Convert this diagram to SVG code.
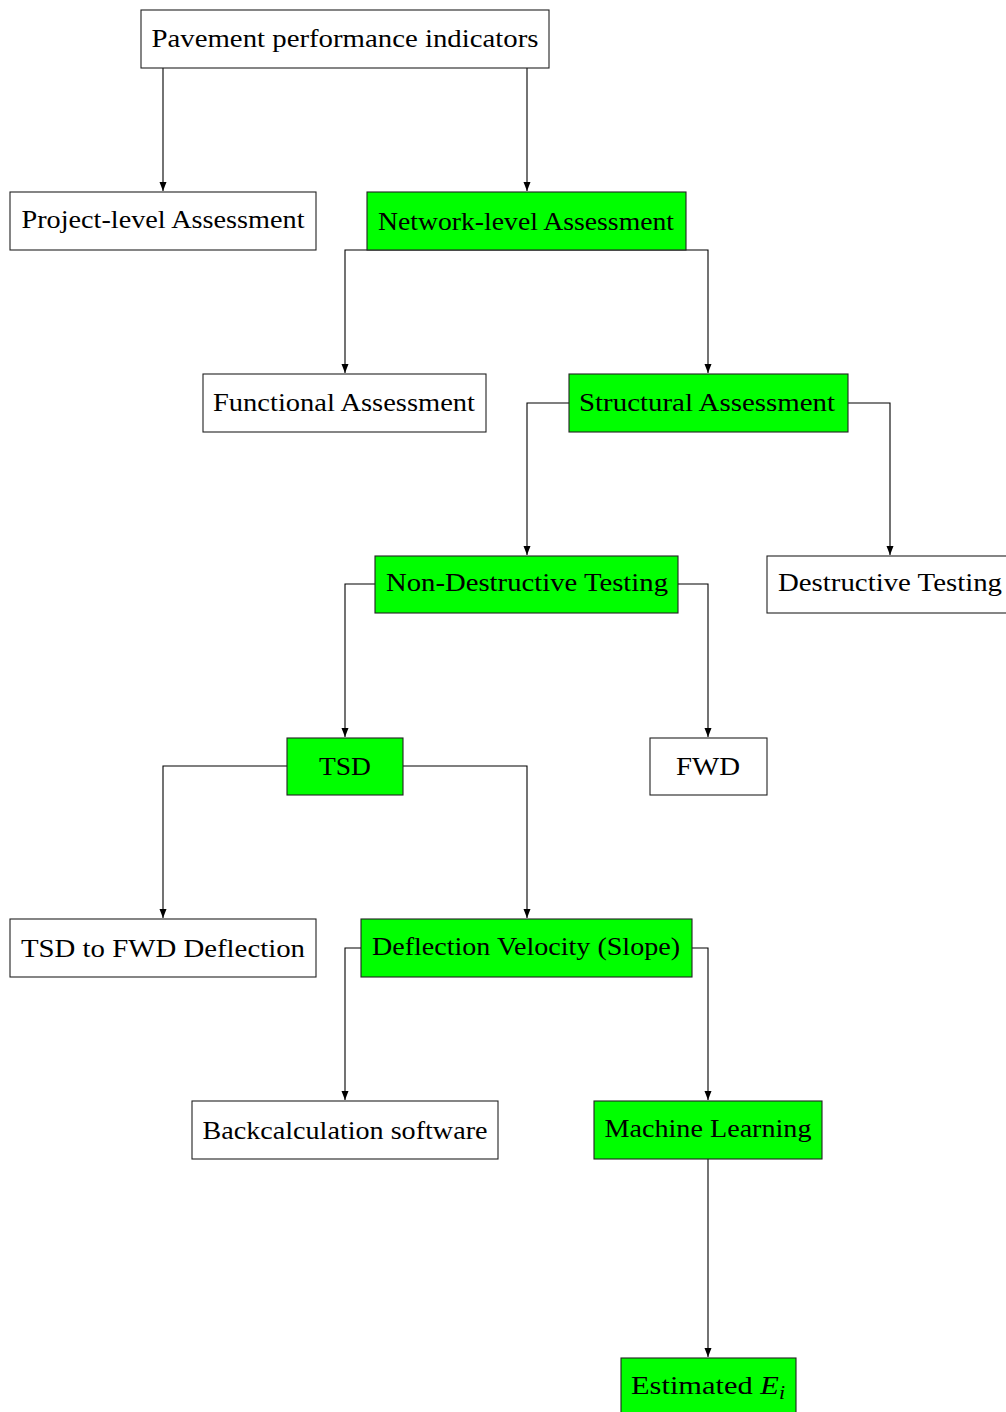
<svg xmlns="http://www.w3.org/2000/svg" width="1006" height="1412" viewBox="0 0 1006 1412">
<style>
.box{fill:#ffffff;stroke:#222222;stroke-width:1.1}
.g{fill:#00ff00}
.t{font-family:"Liberation Serif","DejaVu Serif",serif;font-size:25px;fill:#000;text-anchor:middle}
.c{fill:none;stroke:#000;stroke-width:1.1;marker-end:url(#arr)}
</style>
<defs>
<marker id="arr" markerUnits="userSpaceOnUse" markerWidth="9" markerHeight="9" viewBox="0 0 9 9" refX="9" refY="4.5" orient="auto">
<path d="M0,1 L9,4.5 L0,8 Z" fill="#000"/>
</marker>
</defs>
<g id="connectors">
<path class="c" d="M163,68 V191"/>
<path class="c" d="M527,68 V191"/>
<path class="c" d="M527,250 H345 V373"/>
<path class="c" d="M527,250 H708 V373"/>
<path class="c" d="M569,403 H527 V555"/>
<path class="c" d="M848,403 H890 V555"/>
<path class="c" d="M375,584 H345 V737"/>
<path class="c" d="M678,584 H708 V737"/>
<path class="c" d="M287,766 H163 V918"/>
<path class="c" d="M403,766 H527 V918"/>
<path class="c" d="M361,948 H345 V1100"/>
<path class="c" d="M692,948 H708 V1100"/>
<path class="c" d="M708,1159 V1357"/>
</g>
<g id="n-pavement"><rect class="box" x="141" y="10" width="408" height="58"/><text class="t" x="345" y="47" textLength="387" lengthAdjust="spacingAndGlyphs">Pavement performance indicators</text></g>
<g id="n-project"><rect class="box" x="10" y="192" width="306" height="58"/><text class="t" x="163" y="228" textLength="283" lengthAdjust="spacingAndGlyphs">Project-level Assessment</text></g>
<g id="n-network"><rect class="box g" x="367" y="192" width="319" height="58"/><text class="t" x="526" y="230" textLength="296" lengthAdjust="spacingAndGlyphs">Network-level Assessment</text></g>
<g id="n-functional"><rect class="box" x="203" y="374" width="283" height="58"/><text class="t" x="344" y="411" textLength="262" lengthAdjust="spacingAndGlyphs">Functional Assessment</text></g>
<g id="n-structural"><rect class="box g" x="569" y="374" width="279" height="58"/><text class="t" x="707" y="411" textLength="256" lengthAdjust="spacingAndGlyphs">Structural Assessment</text></g>
<g id="n-ndt"><rect class="box g" x="375" y="556" width="303" height="57"/><text class="t" x="527" y="591" textLength="282" lengthAdjust="spacingAndGlyphs">Non-Destructive Testing</text></g>
<g id="n-destructive"><rect class="box" x="767" y="556" width="245" height="57"/><text class="t" x="890" y="591" textLength="224" lengthAdjust="spacingAndGlyphs">Destructive Testing</text></g>
<g id="n-tsd"><rect class="box g" x="287" y="738" width="116" height="57"/><text class="t" x="345" y="775" textLength="52" lengthAdjust="spacingAndGlyphs">TSD</text></g>
<g id="n-fwd"><rect class="box" x="650" y="738" width="117" height="57"/><text class="t" x="708" y="775" textLength="64" lengthAdjust="spacingAndGlyphs">FWD</text></g>
<g id="n-tsd2fwd"><rect class="box" x="10" y="919" width="306" height="58"/><text class="t" x="163" y="957" textLength="284" lengthAdjust="spacingAndGlyphs">TSD to FWD Deflection</text></g>
<g id="n-dv"><rect class="box g" x="361" y="919" width="331" height="58"/><text class="t" x="526" y="955" textLength="308" lengthAdjust="spacingAndGlyphs">Deflection Velocity (Slope)</text></g>
<g id="n-back"><rect class="box" x="192" y="1101" width="306" height="58"/><text class="t" x="345" y="1139" textLength="285" lengthAdjust="spacingAndGlyphs">Backcalculation software</text></g>
<g id="n-ml"><rect class="box g" x="594" y="1101" width="228" height="58"/><text class="t" x="708" y="1137" textLength="207" lengthAdjust="spacingAndGlyphs">Machine Learning</text></g>
<g id="n-est"><rect class="box g" x="621" y="1358" width="175" height="60"/><text class="t" x="708" y="1394" textLength="154" lengthAdjust="spacingAndGlyphs">Estimated <tspan font-style="italic">E</tspan><tspan font-style="italic" font-size="18" dy="5">i</tspan></text></g>
</svg>
